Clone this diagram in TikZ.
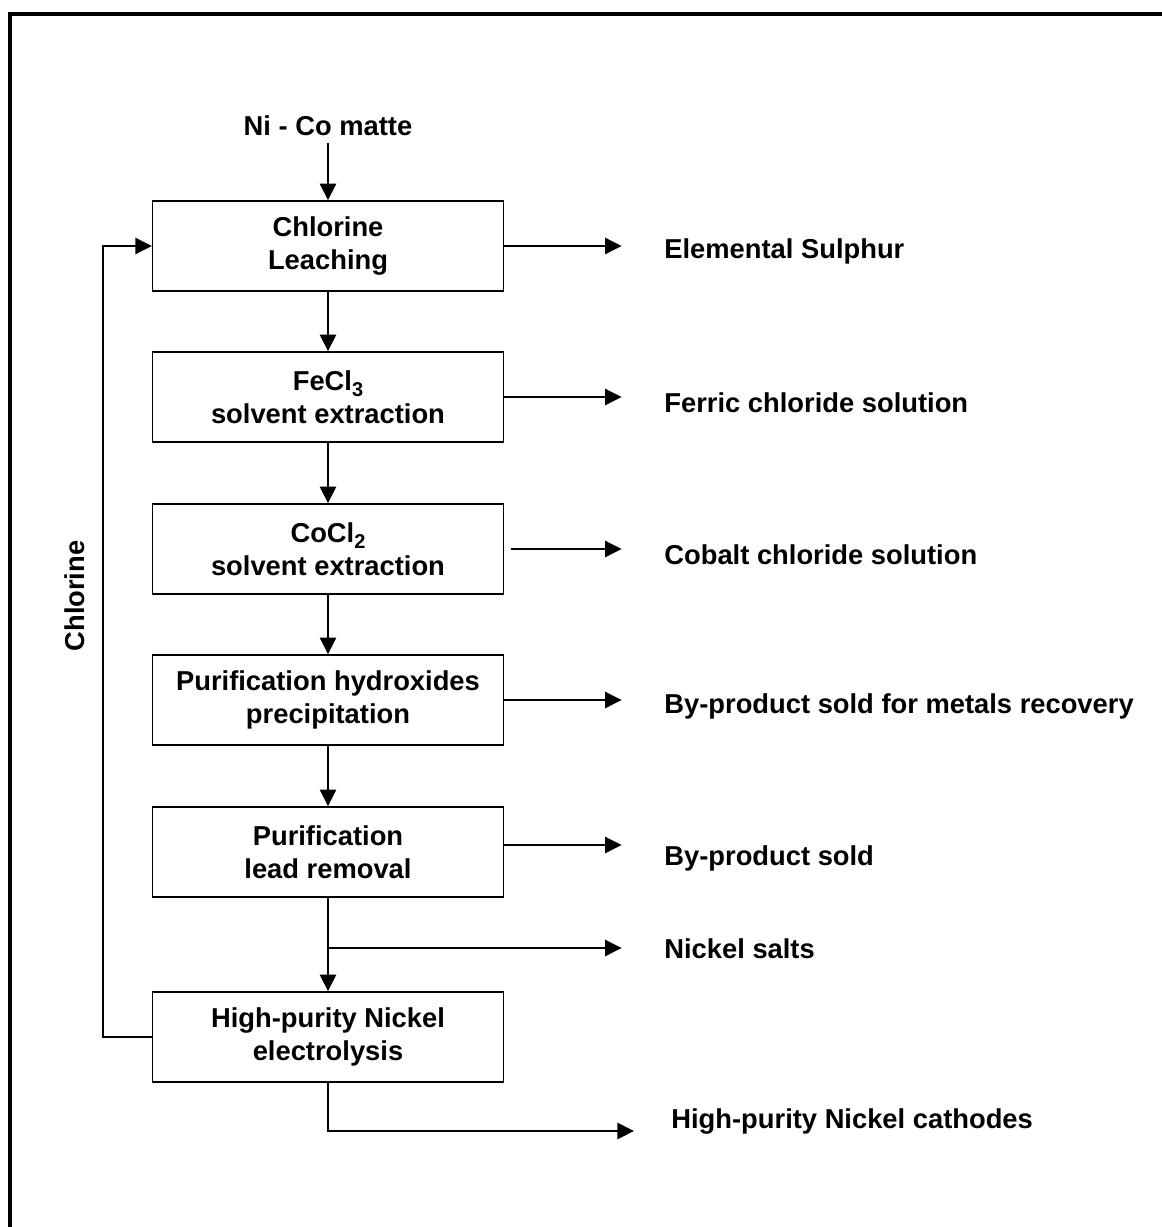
\documentclass[tikz,border=0pt]{standalone}
\usepackage{fontspec}
\setmainfont{Liberation Sans}
\usetikzlibrary{arrows.meta,calc,positioning}

\newcommand{\chemsub}[1]{\raisebox{-0.45ex}{\fontsize{15}{15}\selectfont #1}}

\begin{document}
\begin{tikzpicture}[x=0.75pt, y=-0.75pt, line width=2.1pt,
  >={Triangle[length=12.5pt,width=12pt]}]
  \useasboundingbox (0,0) rectangle (1162,1227);

  % ---- Frame (open on the right and bottom) -------------------
  \draw[line width=2.3pt] (10,1240) -- (10,14) -- (1175,14);

  % ---- Styles -------------------------------------------------
  \tikzstyle{stage}=[draw, line width=1.1pt, inner sep=0pt,
                     minimum width=263pt, minimum height=67.5pt,
                     align=center, font=\fontsize{20.5}{25}\selectfont\bfseries]
  \tikzstyle{product}=[anchor=west, inner sep=0pt,
                       font=\fontsize{20.5}{25}\selectfont\bfseries]
  \tikzstyle{yield}=[->, shorten >=31pt]

  % ---- Process stages -----------------------------------------
  \node[font=\fontsize{20.5}{25}\selectfont\bfseries, inner sep=4pt]
        (feed) at (328,126) {Ni - Co matte};
  \node[stage] (leach)  at (328,246)  {Chlorine\\Leaching};
  \node[stage] (fecl)   at (328,397)  {FeCl\chemsub{3}\\solvent extraction};
  \node[stage] (cocl)   at (328,549)  {CoCl\chemsub{2}\\solvent extraction};
  \node[stage] (hydrox) at (328,700)  {Purification hydroxides\\precipitation};
  \node[stage] (lead)   at (328,852)  {Purification\\lead removal};
  \node[stage] (elec)   at (328,1037) {High-purity Nickel\\electrolysis};

  % ---- Products -----------------------------------------------
  \node[product] (sulphur)  at (663,251) {Elemental Sulphur};
  \node[product] (ferric)   at (663,403) {Ferric chloride solution};
  \node[product] (cobalt)   at (663,555) {Cobalt chloride solution};
  \node[product] (metals)   at (663,706) {By-product sold for metals recovery};
  \node[product] (byprod)   at (663,858) {By-product sold};
  \node[product] (salts)    at (663,949) {Nickel salts};
  \node[product] (cathodes) at (670,1121) {High-purity Nickel cathodes};

  % ---- Main flow ----------------------------------------------
  \draw[->] (feed) -- (leach);
  \foreach \a/\b in {leach/fecl, fecl/cocl, cocl/hydrox, hydrox/lead, lead/elec}
    \draw[->] (\a) -- (\b);

  % ---- Side streams -------------------------------------------
  \draw[yield] (leach.east)  -- (leach.east -| sulphur.west);
  \draw[yield] (fecl.east)   -- (fecl.east -| ferric.west);
  \draw[yield, shorten <=5pt] (cocl.east) -- (cocl.east -| cobalt.west);
  \draw[yield] (hydrox.east) -- (hydrox.east -| metals.west);
  \draw[yield] ($(lead.east)+(0,-7)$) -- ($(lead.east -| byprod.west)+(0,-7)$);

  \coordinate (branch) at (328,948);
  \draw[yield] (branch) -- (branch -| salts.west);

  \coordinate (outlet) at (634,1131);
  \draw[->] (elec.south) |- (outlet);

  % ---- Chlorine recycle ---------------------------------------
  \coordinate (loop) at (103,600);
  \draw[->] (elec.west) -| (loop) |- (leach.west);
  \node[rotate=90, font=\fontsize{20.5}{25}\selectfont\bfseries]
        (recycle) at (75,596) {Chlorine};

\end{tikzpicture}
\end{document}
